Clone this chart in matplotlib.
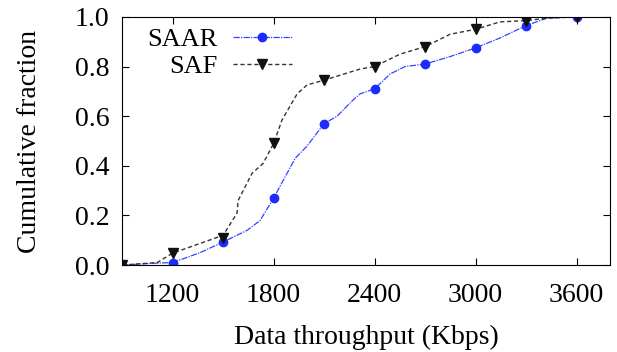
import matplotlib
matplotlib.use("Agg")
import matplotlib.pyplot as plt

plt.rcParams['font.family'] = ['Liberation Serif', 'DejaVu Serif']

# SAAR curve
saar_x = [900, 1108, 1200, 1363, 1500, 1643, 1720, 1800, 1856, 1928, 1999, 2100,
          2177, 2272, 2314, 2400, 2492, 2581, 2700, 2848, 3000, 3145, 3300, 3425,
          3600, 3800]
saar_y = [0.0, 0.008, 0.01, 0.05, 0.093, 0.14, 0.18, 0.27, 0.34, 0.43, 0.48, 0.57,
          0.60, 0.665, 0.69, 0.71, 0.77, 0.80, 0.81, 0.84, 0.875, 0.915, 0.965, 0.995,
          1.0, 1.0]
saar_mx = [900, 1200, 1500, 1800, 2100, 2400, 2700, 3000, 3300, 3600]
saar_my = [0.0, 0.01, 0.093, 0.27, 0.57, 0.71, 0.81, 0.875, 0.965, 1.0]

# SAF curve
saf_x = [900, 1108, 1200, 1500, 1583, 1589, 1672, 1738, 1800, 1850, 1940, 1999,
         2100, 2314, 2400, 2551, 2700, 2848, 3000, 3145, 3300, 3425, 3600, 3800]
saf_y = [0.0, 0.01, 0.048, 0.12, 0.21, 0.26, 0.37, 0.41, 0.49, 0.585, 0.69, 0.726,
         0.745, 0.79, 0.80, 0.85, 0.88, 0.93, 0.95, 0.98, 0.985, 0.995, 1.0, 1.0]
saf_mx = [900, 1200, 1500, 1800, 2100, 2400, 2700, 3000, 3300, 3600]
saf_my = [0.0, 0.048, 0.11, 0.49, 0.745, 0.80, 0.88, 0.95, 0.985, 1.0]

xticks = [1200, 1800, 2400, 3000, 3600]
yticks = [0.0, 0.2, 0.4, 0.6, 0.8, 1.0]

fig = plt.figure(figsize=(6.17, 3.52), dpi=100)
ax = fig.add_axes([0.198, 0.247, 0.791, 0.705])

ax.plot(saar_x, saar_y, color='#3344ff', lw=0.9, ls=(0, (5, 1, 1, 1)))
ax.plot(saf_x, saf_y, color='#333333', lw=1.0, ls=(0, (3, 2)))
ax.plot(saar_mx, saar_my, 'o', color='#1a2cff', ms=6, ls='none')
ax.plot(saf_mx, saf_my, 'v', color='#111111', ms=7, ls='none')

# legend handles
l1, = ax.plot([], [], color='#3344ff', lw=0.9, ls=(0, (5, 1, 1, 1)), marker='o', ms=6,
              mfc='#1a2cff', mec='#1a2cff')
l2, = ax.plot([], [], color='#333333', lw=1.0, ls=(0, (3, 2)), marker='v', ms=7,
              mfc='#111111', mec='#111111')
ax.legend([l1, l2], ['SAAR', 'SAF'], loc='upper left', markerfirst=False, frameon=False,
          fontsize=19, handlelength=2.2, borderaxespad=0.0, labelspacing=0.15,
          bbox_to_anchor=(0.03, 1.0), handletextpad=0.6)

ax.set_xlim(900, 3800)
ax.set_ylim(0, 1.0)
ax.set_xticks(xticks)
ax.set_yticks(yticks)
ax.set_yticklabels(['%.1f' % v for v in yticks])
ax.tick_params(direction='in', top=True, right=True, labelsize=20, length=5)
ax.tick_params(axis='x', pad=13)
ax.tick_params(axis='y', pad=9)
ax.set_xlabel('Data throughput (Kbps)', fontsize=20, labelpad=12)
ax.set_ylabel('Cumulative fraction', fontsize=20, labelpad=24)

plt.savefig('out.png', dpi=100)
